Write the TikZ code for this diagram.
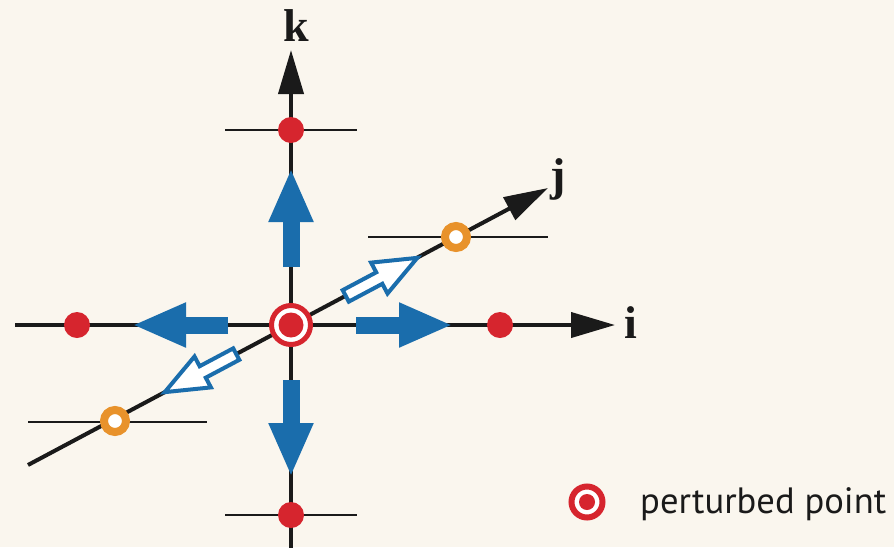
\documentclass[tikz,border=0pt]{standalone}
\usepackage{fontspec}
\setmainfont{Liberation Serif}
\newfontfamily\legendfont{PT Sans}
\usetikzlibrary{arrows.meta}
\definecolor{bg}{HTML}{FAF6EE}
\definecolor{pred}{HTML}{D6252E}
\definecolor{porange}{HTML}{E8922B}
\definecolor{pblue}{HTML}{1A6DAC}
\definecolor{axisblack}{HTML}{1A1A1A}
\begin{document}
\begin{tikzpicture}[x=1pt,y=-1pt,
 axis/.style={line width=4pt, draw=axisblack},
 axisarrow/.style={axis, -{Triangle[length=44pt,width=25pt]}},
 tickline/.style={line width=2pt, draw=axisblack},
 reddot/.style={circle, fill=pred, minimum size=26pt, inner sep=0pt},
 orangept/.style={circle, draw=porange, line width=8pt, fill=white, minimum size=22pt, inner sep=0pt},
 perturbed/.style={circle, draw=pred, fill=white, inner sep=0pt, path picture={\fill[pred] (path picture bounding box.center) circle (#1);}},
 bluearrow/.style={line width=17pt, draw=pblue, -{Triangle[length=54pt,width=41pt]}},
 hollow/.style={draw=pblue, fill=white, line width=4pt, line join=miter},
 axislabel/.style={font=\fontsize{46}{46}\selectfont\bfseries, text=axisblack, inner sep=0pt, anchor=base},
]
\fill[bg] (0,0) rectangle (894,547);
\useasboundingbox (0,0) rectangle (894,547);

% coordinates
\coordinate (c0) at (291,325);
\coordinate (iL) at (15,325);
\coordinate (iR) at (615,325);
\coordinate (kT) at (291,50);
\coordinate (kB) at (291,552);
\coordinate (jL) at (28,465);
\coordinate (jR) at (548,188);

% tick lines
\draw[tickline] (225,130) -- (357,130);
\draw[tickline] (225,515) -- (357,515);
\draw[tickline] (368,237) -- (548,237);
\draw[tickline] (28,422) -- (207,422);

% axes
\draw[axisarrow] (iL) -- (iR);
\draw[axisarrow] (kB) -- (kT);
\draw[axisarrow] (jL) -- (jR);

% labels
\node[axislabel] (kl) at (296,41) {k};
\node[axislabel] (il) at (631,338) {i};
\node[axislabel] (jl) at (558,190) {j};

% neighbour points
\node[reddot] (top) at (291,130) {};
\node[reddot] (bot) at (291,515) {};
\node[reddot] (lef) at (77,325) {};
\node[reddot] (rig) at (500,325) {};
\node[orangept] (ju) at (456,237) {};
\node[orangept] (jd) at (115,421) {};

% blue solid arrows
\draw[bluearrow] (291,267) -- (291,168);
\draw[bluearrow] (356,325) -- (453,325);
\draw[bluearrow] (291,380) -- (291,477);
\draw[bluearrow] (228,325) -- (132,325);

% hollow arrows along j
\begin{scope}[shift={(c0)}, rotate=28]
\draw[hollow] (62,-6.5) -- (100,-6.5) -- (100,-17.5) -- (143,0) -- (100,17.5) -- (100,6.5) -- (62,6.5) -- cycle;
\end{scope}
\begin{scope}[shift={(c0)}, rotate=208]
\draw[hollow] (62,-6.5) -- (100,-6.5) -- (100,-17.5) -- (143,0) -- (100,17.5) -- (100,6.5) -- (62,6.5) -- cycle;
\end{scope}

% centre perturbed point
\node[perturbed=12.5pt, line width=5pt, minimum size=39pt] (c) at (c0) {};

% legend
\node[perturbed=8pt, line width=6pt, minimum size=31pt] (leg) at (587,502) {};
\node[anchor=base west, font=\legendfont\fontsize{36.6}{36.6}\selectfont, text=axisblack, inner sep=0pt] (lt) at (640,513) {perturbed point};
\end{tikzpicture}
\end{document}
